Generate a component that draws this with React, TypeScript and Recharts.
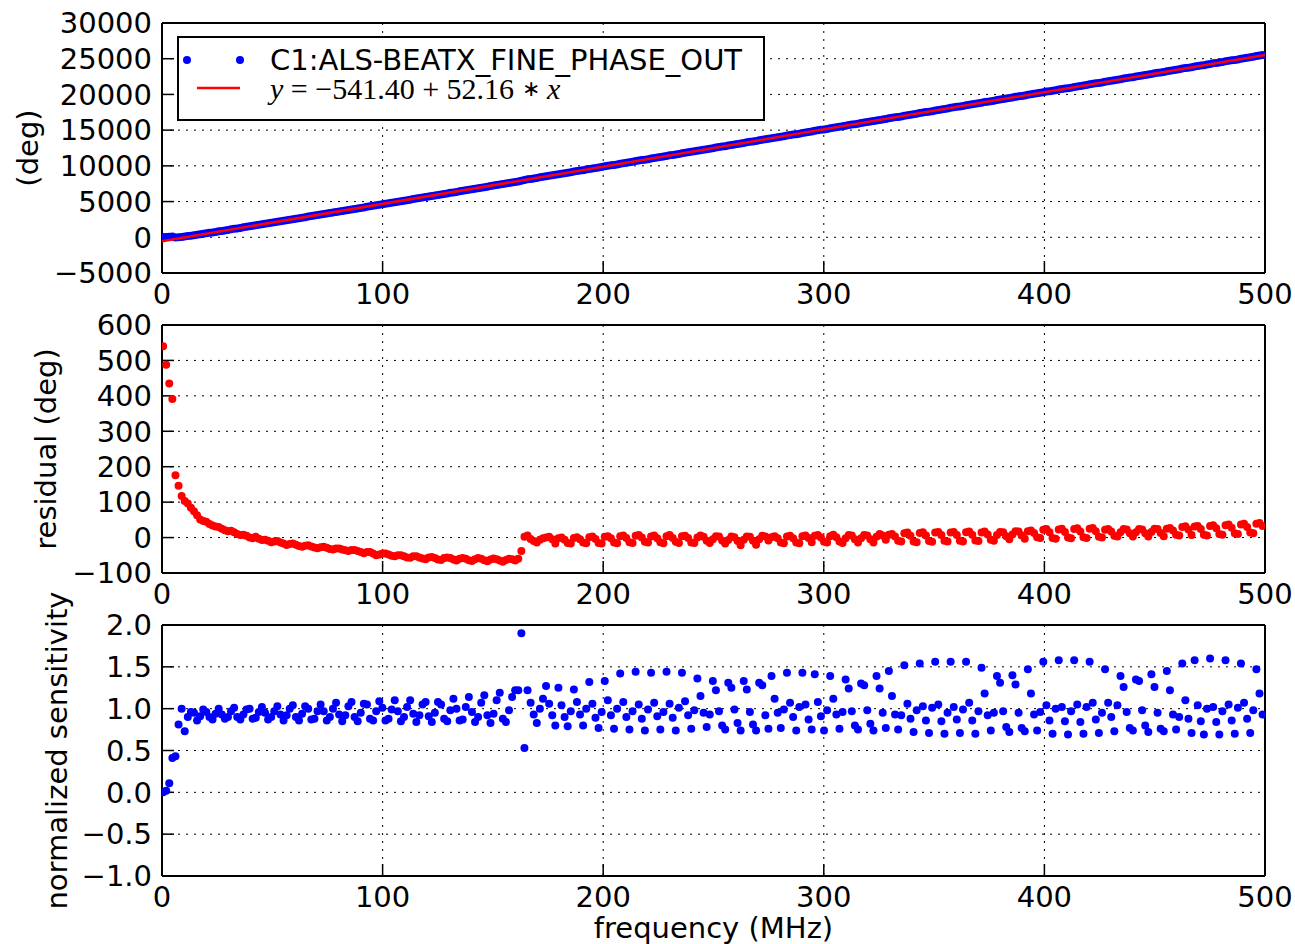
import React from 'react';
import { ComposedChart, Scatter, XAxis, YAxis, CartesianGrid, Label, Legend } from 'recharts';

// sweep frequencies (MHz)
const freq = [
  0.5, 1.9, 3.3, 4.7, 6.1, 7.5, 8.9, 10.3, 11.7, 13.1,
  14.5, 15.9, 17.3, 18.7, 20.1, 21.5, 22.9, 24.3, 25.7, 27.1,
  28.5, 29.9, 31.3, 32.7, 34.1, 35.5, 36.9, 38.3, 39.7, 41.1,
  42.5, 43.9, 45.3, 46.7, 48.1, 49.5, 50.9, 52.3, 53.7, 55.1,
  56.5, 57.9, 59.3, 60.7, 62.1, 63.5, 64.9, 66.3, 67.7, 69.1,
  70.5, 71.9, 73.3, 74.7, 76.1, 77.5, 78.9, 80.3, 81.7, 83.1,
  84.5, 85.9, 87.3, 88.7, 90.1, 91.5, 92.9, 94.3, 95.7, 97.1,
  98.5, 99.9, 101.3, 102.7, 104.1, 105.5, 106.9, 108.3, 109.7, 111.1,
  112.5, 113.9, 115.3, 116.7, 118.1, 119.5, 120.9, 122.3, 123.7, 125.1,
  126.5, 127.9, 129.3, 130.7, 132.1, 133.5, 134.9, 136.3, 137.7, 139.1,
  140.5, 141.9, 143.3, 144.7, 146.1, 147.5, 148.9, 150.3, 151.7, 153.1,
  154.5, 155.9, 157.3, 158.7, 160.1, 161.5, 162.9, 164.3, 165.7, 167.1,
  168.5, 169.9, 171.3, 172.7, 174.1, 175.5, 176.9, 178.3, 179.7, 181.1,
  182.5, 183.9, 185.3, 186.7, 188.1, 189.5, 190.9, 192.3, 193.7, 195.1,
  196.5, 197.9, 199.3, 200.7, 202.1, 203.5, 204.9, 206.3, 207.7, 209.1,
  210.5, 211.9, 213.3, 214.7, 216.1, 217.5, 218.9, 220.3, 221.7, 223.1,
  224.5, 225.9, 227.3, 228.7, 230.1, 231.5, 232.9, 234.3, 235.7, 237.1,
  238.5, 239.9, 241.3, 242.7, 244.1, 245.5, 246.9, 248.3, 249.7, 251.1,
  252.5, 253.9, 255.3, 256.7, 258.1, 259.5, 260.9, 262.3, 263.7, 265.1,
  266.5, 267.9, 269.3, 270.7, 272.1, 273.5, 274.9, 276.3, 277.7, 279.1,
  280.5, 281.9, 283.3, 284.7, 286.1, 287.5, 288.9, 290.3, 291.7, 293.1,
  294.5, 295.9, 297.3, 298.7, 300.1, 301.5, 302.9, 304.3, 305.7, 307.1,
  308.5, 309.9, 311.3, 312.7, 314.1, 315.5, 316.9, 318.3, 319.7, 321.1,
  322.5, 323.9, 325.3, 326.7, 328.1, 329.5, 330.9, 332.3, 333.7, 335.1,
  336.5, 337.9, 339.3, 340.7, 342.1, 343.5, 344.9, 346.3, 347.7, 349.1,
  350.5, 351.9, 353.3, 354.7, 356.1, 357.5, 358.9, 360.3, 361.7, 363.1,
  364.5, 365.9, 367.3, 368.7, 370.1, 371.5, 372.9, 374.3, 375.7, 377.1,
  378.5, 379.9, 381.3, 382.7, 384.1, 385.5, 386.9, 388.3, 389.7, 391.1,
  392.5, 393.9, 395.3, 396.7, 398.1, 399.5, 400.9, 402.3, 403.7, 405.1,
  406.5, 407.9, 409.3, 410.7, 412.1, 413.5, 414.9, 416.3, 417.7, 419.1,
  420.5, 421.9, 423.3, 424.7, 426.1, 427.5, 428.9, 430.3, 431.7, 433.1,
  434.5, 435.9, 437.3, 438.7, 440.1, 441.5, 442.9, 444.3, 445.7, 447.1,
  448.5, 449.9, 451.3, 452.7, 454.1, 455.5, 456.9, 458.3, 459.7, 461.1,
  462.5, 463.9, 465.3, 466.7, 468.1, 469.5, 470.9, 472.3, 473.7, 475.1,
  476.5, 477.9, 479.3, 480.7, 482.1, 483.5, 484.9, 486.3, 487.7, 489.1,
  490.5, 491.9, 493.3, 494.7, 496.1, 497.5, 498.9,
];

// measured phase (deg)
const phaseDeg = [
  25, 46, 66, 95, -47, -4, 40, 99, 165, 226,
  289, 351, 412, 481, 552, 618, 687, 757, 829, 897,
  966, 1036, 1110, 1179, 1247, 1317, 1391, 1461, 1529, 1600,
  1678, 1746, 1815, 1889, 1959, 2028, 2103, 2177, 2246, 2316,
  2385, 2461, 2535, 2605, 2674, 2745, 2821, 2895, 2965, 3035,
  3106, 3182, 3256, 3326, 3396, 3467, 3543, 3616, 3686, 3757,
  3828, 3904, 3977, 4047, 4117, 4187, 4263, 4336, 4405, 4473,
  4549, 4625, 4698, 4768, 4838, 4909, 4985, 5058, 5128, 5198,
  5270, 5347, 5420, 5490, 5560, 5631, 5709, 5783, 5853, 5922,
  5994, 6072, 6147, 6218, 6287, 6357, 6435, 6510, 6581, 6650,
  6721, 6799, 6875, 6946, 7015, 7085, 7163, 7239, 7310, 7379,
  7450, 7528, 7604, 7676, 7745, 7823, 7918, 8031, 8108, 8171,
  8238, 8307, 8388, 8465, 8540, 8615, 8681, 8742, 8830, 8905,
  8972, 9036, 9107, 9196, 9271, 9338, 9402, 9473, 9563, 9638,
  9704, 9766, 9837, 9929, 10004, 10071, 10132, 10203, 10296, 10371,
  10438, 10499, 10570, 10663, 10738, 10804, 10865, 10936, 11026, 11102,
  11167, 11229, 11299, 11392, 11468, 11533, 11595, 11665, 11757, 11831,
  11898, 11958, 12030, 12118, 12197, 12266, 12328, 12395, 12478, 12560,
  12632, 12694, 12758, 12841, 12924, 12995, 13057, 13118, 13207, 13289,
  13362, 13424, 13486, 13574, 13657, 13728, 13790, 13872, 13948, 14015,
  14076, 14147, 14239, 14314, 14380, 14441, 14512, 14605, 14680, 14746,
  14807, 14898, 14973, 15039, 15100, 15171, 15262, 15339, 15405, 15466,
  15535, 15621, 15703, 15775, 15837, 15901, 15986, 16068, 16140, 16202,
  16267, 16356, 16437, 16506, 16567, 16654, 16729, 16795, 16856, 16927,
  17023, 17098, 17162, 17219, 17290, 17389, 17464, 17528, 17585, 17656,
  17755, 17830, 17894, 17951, 18022, 18120, 18195, 18259, 18316, 18387,
  18486, 18561, 18625, 18682, 18753, 18850, 18926, 18991, 19049, 19119,
  19209, 19291, 19363, 19425, 19489, 19576, 19658, 19730, 19792, 19856,
  19950, 20025, 20091, 20152, 20223, 20319, 20394, 20458, 20515, 20586,
  20685, 20760, 20824, 20881, 20952, 21051, 21126, 21190, 21247, 21318,
  21417, 21492, 21556, 21613, 21684, 21779, 21854, 21920, 21981, 22052,
  22137, 22219, 22291, 22353, 22417, 22502, 22584, 22656, 22718, 22782,
  22869, 22951, 23023, 23085, 23149, 23243, 23318, 23384, 23445, 23516,
  23613, 23688, 23752, 23809, 23906, 23981, 24045, 24102, 24173, 24273,
  24348, 24412, 24469, 24540, 24640, 24715, 24779, 24836, 24907, 25007,
  25082, 25146, 25203, 25274, 25374, 25449, 25514,
];

// linear fit y = -541.40 + 52.16 * x, end points
const fitFreq = [0, 500];
const fitDeg = [-541.4, 25538.6];

// phase minus fit (deg)
const residualDeg = [
  540, 488, 435, 391, 176, 146, 117, 103, 96, 84,
  74, 63, 51, 47, 45, 38, 34, 31, 30, 25,
  21, 18, 19, 15, 10, 7, 8, 5, 0, -2,
  2, -3, -7, -6, -9, -13, -11, -10, -14, -17,
  -21, -18, -17, -20, -24, -26, -23, -22, -25, -28,
  -30, -27, -26, -29, -32, -34, -31, -31, -34, -36,
  -38, -35, -35, -38, -41, -44, -41, -41, -45, -50,
  -48, -45, -45, -48, -51, -53, -50, -50, -53, -56,
  -57, -53, -53, -56, -59, -61, -56, -55, -58, -62,
  -63, -58, -56, -58, -62, -65, -60, -58, -60, -64,
  -66, -61, -58, -60, -64, -67, -62, -59, -61, -65,
  -68, -63, -60, -61, -65, -60, -38, 2, 6, -4,
  -10, -14, -6, -2, 0, 2, -5, -17, -2, 0,
  -6, -15, -17, -1, 1, -5, -14, -16, 1, 3,
  -4, -15, -17, 2, 4, -2, -14, -16, 4, 6,
  -1, -13, -15, 5, 7, 0, -12, -14, 3, 6,
  -2, -13, -16, 4, 7, -1, -12, -15, 4, 5,
  -1, -14, -15, 0, 6, 2, -9, -15, -5, 4,
  3, -8, -17, -7, 3, 1, -10, -22, -6, 3,
  2, -9, -20, -5, 5, 3, -8, 1, 4, -2,
  -14, -16, 3, 5, -2, -14, -16, 4, 6, -1,
  -13, 5, 7, 0, -12, -14, 4, 8, 1, -11,
  -15, -2, 7, 6, -5, -14, -2, 7, 6, -5,
  -14, 2, 10, 6, -6, 8, 10, 3, -9, -11,
  12, 14, 5, -11, -13, 13, 15, 6, -10, -12,
  14, 16, 7, -9, -11, 14, 16, 7, -9, -11,
  15, 17, 8, -8, -10, 14, 17, 9, -6, -9,
  7, 16, 15, 4, -5, 9, 18, 17, 6, -3,
  18, 20, 13, 1, -1, 22, 24, 15, -1, -3,
  23, 25, 16, 0, -2, 24, 26, 17, 1, -1,
  25, 27, 18, 2, 0, 22, 24, 17, 5, 3,
  15, 24, 23, 12, 3, 15, 24, 23, 12, 3,
  16, 25, 24, 13, 4, 25, 27, 20, 8, 6,
  30, 32, 23, 7, 31, 33, 24, 8, 6, 33,
  35, 26, 10, 8, 35, 37, 28, 12, 10, 37,
  39, 30, 14, 12, 39, 41, 33,
];

// normalized sensitivity
const sensitivity = [
  0.0, 0.02, 0.11, 0.41, 0.43, 0.81, 1.0, 0.73, 0.9, 0.96,
  0.95, 0.86, 0.91, 0.99, 0.96, 0.9, 0.87, 0.94, 1.0, 0.93,
  0.88, 0.9, 0.97, 1.01, 0.9, 0.87, 0.93, 0.99, 1.0, 0.88,
  0.89, 0.96, 1.02, 0.95, 0.87, 0.9, 0.97, 1.03, 0.93, 0.86,
  0.92, 1.0, 1.04, 0.9, 0.86, 0.94, 1.03, 1.0, 0.87, 0.88,
  0.97, 1.05, 0.97, 0.86, 0.9, 1.0, 1.07, 0.93, 0.85, 0.92,
  1.03, 1.08, 0.9, 0.85, 0.95, 1.06, 1.05, 0.88, 0.86, 0.97,
  1.09, 1.01, 0.86, 0.88, 0.99, 1.1, 0.97, 0.85, 0.9, 1.02,
  1.1, 0.94, 0.84, 0.92, 1.05, 1.08, 0.91, 0.84, 0.95, 1.08,
  1.05, 0.88, 0.85, 0.98, 1.12, 1.0, 0.86, 0.87, 1.02, 1.14,
  0.96, 0.84, 0.9, 1.07, 1.16, 0.92, 0.83, 0.94, 1.1, 1.19,
  0.88, 0.84, 0.98, 1.14, 1.22, 1.22, 1.9, 0.53, 1.22, 1.07,
  0.93, 0.83, 1.0, 1.12, 1.27, 1.06, 0.92, 0.8, 1.25, 1.04,
  0.9, 0.79, 0.97, 1.23, 1.08, 0.93, 0.8, 1.0, 1.32, 1.06,
  0.89, 0.77, 0.96, 1.33, 1.1, 0.92, 0.76, 1.0, 1.42, 1.08,
  0.9, 0.75, 0.97, 1.44, 1.05, 0.88, 0.74, 0.99, 1.43, 1.07,
  0.91, 0.75, 0.96, 1.44, 1.06, 0.89, 0.74, 1.01, 1.43, 1.09,
  0.92, 0.76, 0.98, 1.36, 1.15, 0.95, 0.78, 0.93, 1.33, 1.22,
  0.97, 0.8, 0.75, 1.31, 1.25, 0.99, 0.83, 0.74, 1.33, 1.23,
  0.96, 0.81, 0.74, 1.31, 1.28, 0.92, 0.76, 1.39, 1.12, 0.95,
  0.77, 0.99, 1.43, 1.07, 0.9, 0.74, 1.02, 1.43, 1.05, 0.87,
  0.75, 1.41, 1.08, 0.91, 0.74, 0.98, 1.39, 1.12, 0.93, 0.76,
  0.96, 1.35, 1.24, 0.97, 0.8, 0.75, 1.3, 1.28, 0.98, 0.82,
  0.74, 1.39, 1.24, 0.95, 0.77, 1.45, 1.15, 0.93, 0.75, 0.92,
  1.52, 1.06, 0.88, 0.72, 0.98, 1.54, 1.03, 0.86, 0.71, 1.01,
  1.56, 1.05, 0.85, 0.7, 0.95, 1.56, 1.02, 0.87, 0.71, 0.99,
  1.56, 1.07, 0.86, 0.7, 0.97, 1.49, 1.18, 0.92, 0.74, 0.95,
  1.39, 1.31, 0.97, 0.78, 0.72, 1.4, 1.29, 0.95, 0.77, 0.73,
  1.47, 1.18, 0.93, 0.74, 0.96, 1.56, 1.04, 0.86, 0.7, 1.0,
  1.58, 1.02, 0.85, 0.69, 0.97, 1.58, 1.05, 0.84, 0.7, 1.02,
  1.56, 1.07, 0.87, 0.71, 0.95, 1.47, 1.07, 0.9, 0.73, 1.04,
  1.39, 1.26, 0.96, 0.77, 0.74, 1.35, 1.33, 0.98, 0.8, 0.72,
  1.41, 1.26, 0.95, 0.76, 0.73, 1.45, 1.22, 0.93, 0.75, 0.9,
  1.54, 1.1, 0.88, 0.71, 1.58, 1.04, 0.85, 0.69, 1.0, 1.6,
  1.02, 0.84, 0.69, 0.97, 1.58, 1.05, 0.86, 0.7, 1.01, 1.54,
  1.07, 0.88, 0.71, 0.98, 1.47, 1.18, 0.93,
];

const xTicks = [0, 100, 200, 300, 400, 500];
const phaseTicks = [-5000, 0, 5000, 10000, 15000, 20000, 25000, 30000];
const residTicks = [-100, 0, 100, 200, 300, 400, 500, 600];
const sensTicks = [-1, -0.5, 0, 0.5, 1, 1.5, 2];

const rows = freq.map((f, i) => ({
  f,
  phase: phaseDeg[i],
  resid: residualDeg[i],
  sens: sensitivity[i],
}));
// same key as the measured phase so it shares the left axis
const fitRows = fitFreq.map((f, i) => ({ f, phase: fitDeg[i] }));

const SANS = '"DejaVu Sans", sans-serif';
const tickFont = { fontFamily: SANS, fontSize: 29, fill: '#000' };
const labelFont = { fontFamily: SANS, fontSize: 29, fill: '#000' };
const spine = { stroke: '#000', strokeWidth: 2 };
const tickMark = { stroke: '#000', strokeWidth: 1.5 };
const R = 4;

const fmtInt = (v: number) => String(v).replace('-', '\u2212');
const fmtOne = (v: number) => v.toFixed(1).replace('-', '\u2212');

const dot = (color: string) => (props: any) =>
  <circle cx={props.cx} cy={props.cy} r={R} fill={color} />;
const noDot = () => <g />;

function sideLabel(text: string, cx: number) {
  return (
    <Label
      content={(props: any) => {
        const vb = props.viewBox || {};
        const cy = (vb.y ?? 0) + (vb.height ?? 0) / 2;
        return (
          <text x={cx} y={cy} transform={`rotate(-90 ${cx} ${cy})`} textAnchor="middle"
            dominantBaseline="central" style={labelFont}>
            {text}
          </text>
        );
      }}
    />
  );
}

function frame(yKey: string, yDomain: [number, number], yTicks: number[], fmt: (v: number) => string,
  topH: number, botH: number, yLab: React.ReactNode, xLab?: React.ReactNode) {
  return [
    <CartesianGrid key="grid" xAxisId="b" yAxisId="l" stroke="#000" strokeWidth={1} strokeDasharray="2 6" />,
    <XAxis key="xb" xAxisId="b" dataKey="f" type="number" domain={[0, 500]} ticks={xTicks} interval={0}
      allowDataOverflow orientation="bottom" height={botH} tickSize={-12} tickMargin={22}
      tick={tickFont} axisLine={spine} tickLine={tickMark}>
      {xLab}
    </XAxis>,
    <XAxis key="xt" xAxisId="t" type="number" domain={[0, 500]} ticks={xTicks} interval={0}
      allowDataOverflow orientation="top" height={topH} tickSize={-12} tick={false}
      axisLine={spine} tickLine={tickMark} />,
    <YAxis key="yl" yAxisId="l" dataKey={yKey} type="number" domain={yDomain} ticks={yTicks} interval={0}
      allowDataOverflow width={162} tickSize={-12} tickMargin={22} tickFormatter={fmt}
      tick={tickFont} axisLine={spine} tickLine={tickMark}>
      {yLab}
    </YAxis>,
    <YAxis key="yr" yAxisId="r" type="number" domain={yDomain} ticks={yTicks} interval={0}
      allowDataOverflow orientation="right" width={30} tickSize={-12} tick={false}
      axisLine={spine} tickLine={tickMark} />,
  ];
}

function FitLegend() {
  return (
    <svg width={588} height={85} style={{ display: 'block' }}>
      <rect x={1} y={1} width={586} height={83} fill="#fff" stroke="#000" strokeWidth={2} />
      <circle cx={10} cy={24} r={R} fill="#0000ff" />
      <circle cx={63} cy={24} r={R} fill="#0000ff" />
      <line x1={20} x2={63} y1={52} y2={52} stroke="#ff0000" strokeWidth={2.5} />
      <text x={93} y={24} dominantBaseline="central" style={labelFont}>C1:ALS-BEATX_FINE_PHASE_OUT</text>
      <text x={93} y={52} dominantBaseline="central"
        style={{ fontFamily: '"Liberation Serif", serif', fontSize: 30, fill: '#000' }}>
        <tspan fontStyle="italic">y</tspan> = {'\u2212'}541.40 + 52.16 <tspan fontSize={22}>{'\u2217'}</tspan> <tspan fontStyle="italic">x</tspan>
      </text>
    </svg>
  );
}

export default function App() {
  return (
    <div style={{ position: 'absolute', left: 0, top: 0, width: 1295, height: 944, background: '#fff', overflow: 'hidden' }}>
      <div style={{ position: 'absolute', left: 0, top: 0 }}>
        <ComposedChart width={1295} height={310} data={rows} margin={{ top: 0, right: 0, bottom: 0, left: 0 }}>
          {frame('phase', [-5000, 30000], phaseTicks, fmtInt, 23, 37, sideLabel('(deg)', 28))}
          <Scatter xAxisId="b" yAxisId="l" data={rows} dataKey="phase" shape={dot('#0000ff')} isAnimationActive={false} />
          <Scatter xAxisId="b" yAxisId="l" data={fitRows} dataKey="phase" shape={noDot}
            line={{ stroke: '#ff0000', strokeWidth: 2.5 }} isAnimationActive={false} />
          <Legend layout="vertical" align="center" verticalAlign="middle" content={() => <FitLegend />}
            wrapperStyle={{ left: 177, top: 36, width: 588, height: 85 }} />
        </ComposedChart>
      </div>
      <div style={{ position: 'absolute', left: 0, top: 300 }}>
        <ComposedChart width={1295} height={310} data={rows} margin={{ top: 0, right: 0, bottom: 0, left: 0 }}>
          {frame('resid', [-100, 600], residTicks, fmtInt, 25, 37, sideLabel('residual (deg)', 46))}
          <Scatter xAxisId="b" yAxisId="l" data={rows} dataKey="resid" shape={dot('#ff0000')} isAnimationActive={false} />
        </ComposedChart>
      </div>
      <div style={{ position: 'absolute', left: 0, top: 570 }}>
        <ComposedChart width={1295} height={374} data={rows} margin={{ top: 0, right: 0, bottom: 0, left: 0 }}>
          {frame('sens', [-1, 2], sensTicks, fmtOne, 55, 68, sideLabel('normalized sensitivity', 57),
            <Label
              content={(props: any) => {
                const vb = props.viewBox || {};
                const cx = (vb.x ?? 0) + (vb.width ?? 0) / 2;
                const cy = (vb.y ?? 0) + 52;
                return (
                  <text x={cx} y={cy} textAnchor="middle" dominantBaseline="central" style={labelFont}>
                    frequency (MHz)
                  </text>
                );
              }}
            />)}
          <Scatter xAxisId="b" yAxisId="l" data={rows} dataKey="sens" shape={dot('#0000ff')} isAnimationActive={false} />
        </ComposedChart>
      </div>
    </div>
  );
}
